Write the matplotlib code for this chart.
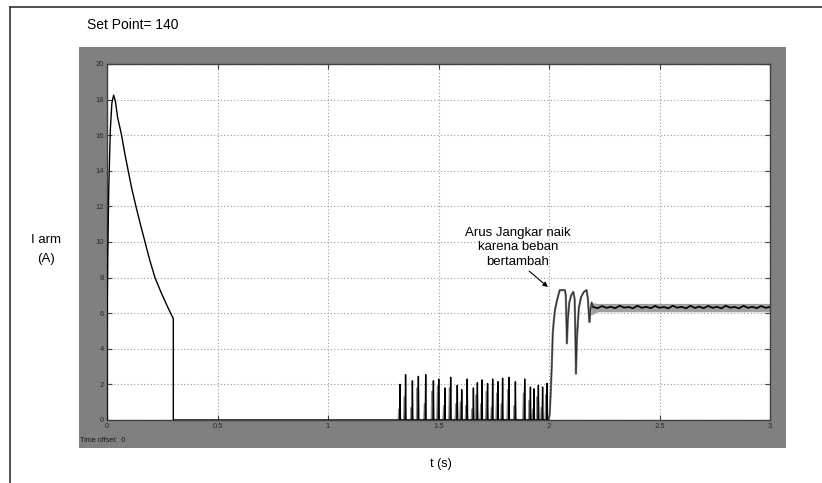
import matplotlib
matplotlib.use("Agg")
import matplotlib.pyplot as plt
from matplotlib.patches import Rectangle
from matplotlib.lines import Line2D

plt.rcParams['font.family'] = ['Liberation Sans', 'DejaVu Sans']

# ---------------- data ----------------
# start-up transient
t_start = [0.0, 0.0, 0.003, 0.008, 0.015, 0.022, 0.030, 0.038, 0.048, 0.066,
           0.080, 0.096, 0.112, 0.131, 0.151, 0.172, 0.193, 0.217, 0.247,
           0.280, 0.300, 0.300, 1.320]
i_start = [0.0, 5.0, 9.0, 13.0, 16.3, 17.8, 18.25, 17.9, 17.0, 16.0,
           15.0, 14.0, 13.0, 12.0, 11.0, 10.0, 9.0, 8.0, 7.1,
           6.2, 5.7, 0.0, 0.0]

# chopping spikes between 1.33 s and 2 s (black trace)
spike_t_black = [1.326, 1.351, 1.382, 1.409, 1.442, 1.477, 1.501, 1.529, 1.555,
                 1.585, 1.605, 1.630, 1.658, 1.676, 1.697, 1.722, 1.745, 1.769,
                 1.790, 1.819, 1.848, 1.890, 1.916, 1.932, 1.952, 1.971, 1.991]
spike_h_black = [2.0, 2.55, 2.2, 2.45, 2.55, 2.2, 2.3, 1.8, 2.4,
                 1.95, 1.7, 2.3, 1.8, 2.1, 2.25, 2.05, 2.3, 2.15,
                 2.35, 2.4, 2.15, 2.3, 1.85, 1.75, 1.95, 1.85, 2.05]
# grey trace spikes
spike_t_grey = [1.322, 1.347, 1.378, 1.405, 1.438, 1.472, 1.497, 1.525, 1.551,
                1.580, 1.601, 1.626, 1.653, 1.672, 1.693, 1.718, 1.741, 1.765,
                1.786, 1.815, 1.844, 1.886, 1.912, 1.928, 1.948, 1.967, 1.987]
spike_h_grey = [0.6, 1.3, 0.7, 1.8, 0.9, 1.6, 1.9, 0.8, 1.8,
                0.9, 1.0, 0.8, 0.6, 1.4, 0.9, 1.6, 0.7, 1.5,
                0.9, 1.7, 0.8, 1.5, 1.1, 0.6, 1.3, 0.7, 1.4]

# load step transient
t_load = [1.997, 2.003, 2.008, 2.0125, 2.017, 2.022, 2.027, 2.034, 2.042, 2.049,
          2.060, 2.072, 2.076, 2.079, 2.081, 2.085, 2.092, 2.100, 2.110, 2.116,
          2.119, 2.122, 2.126, 2.135, 2.145, 2.158, 2.170, 2.176, 2.180, 2.183,
          2.188, 2.193, 2.200]
i_load = [0.0, 0.3, 1.6, 3.0, 4.86, 5.6, 6.17, 6.6, 7.0, 7.3,
          7.3, 7.3, 7.0, 5.5, 4.3, 5.6, 6.6, 7.0, 7.2, 6.8,
          5.0, 2.6, 4.5, 6.3, 6.9, 7.2, 7.3, 6.8, 6.0, 5.5,
          6.2, 6.6, 6.35]

# steady state after load (black trace)
t_ss = [2.20, 2.22, 2.24, 2.26, 2.28, 2.30, 2.32, 2.34, 2.36, 2.38, 2.40,
        2.42, 2.44, 2.46, 2.48, 2.50, 2.52, 2.54, 2.56, 2.58, 2.60,
        2.62, 2.64, 2.66, 2.68, 2.70, 2.72, 2.74, 2.76, 2.78, 2.80,
        2.82, 2.84, 2.86, 2.88, 2.90, 2.92, 2.94, 2.96, 2.98, 3.00]
i_ss = [6.35, 6.28, 6.40, 6.30, 6.36, 6.28, 6.42, 6.31, 6.35, 6.27, 6.42,
        6.30, 6.36, 6.28, 6.41, 6.30, 6.35, 6.27, 6.42, 6.31, 6.36,
        6.27, 6.42, 6.29, 6.37, 6.28, 6.41, 6.30, 6.36, 6.27, 6.42,
        6.31, 6.35, 6.27, 6.42, 6.30, 6.36, 6.28, 6.40, 6.30, 6.35]
# grey ripple envelope
band_t = [2.19, 2.22, 3.0]
band_lo = [5.9, 6.08, 6.08]
band_hi = [6.6, 6.55, 6.55]

x_ticks = [0, 0.5, 1, 1.5, 2, 2.5, 3]
x_ticklabels = ["0", "0.5", "1", "1.5", "2", "2.5", "3"]
y_ticks = [0, 2, 4, 6, 8, 10, 12, 14, 16, 18, 20]

annot_lines = ["Arus Jangkar naik", "karena beban", "bertambah"]


def spikes(ts, hs, w):
    xs, ys = [], []
    for t, h in zip(ts, hs):
        xs += [t - w, t, t + w]
        ys += [0.0, h, 0.0]
    return xs, ys


# ---------------- figure ----------------
W, H = 822, 483
fig = plt.figure(figsize=(W / 100, H / 100), dpi=100)
fig.patch.set_facecolor("white")


def fx(px):
    return px / W


def fy(py):
    return 1 - py / H


# outer frame (left and top lines)
fig.add_artist(Line2D([fx(10), fx(10)], [0, fy(7)], color="#333333", lw=1.2))
fig.add_artist(Line2D([fx(10), 1], [fy(7), fy(7)], color="#333333", lw=1.2))

# grey scope panel
fig.add_artist(Rectangle((fx(79), fy(448)), fx(786) - fx(79), fy(47) - fy(448),
                         facecolor="#808080", edgecolor="none", zorder=0))

ax = fig.add_axes([fx(107), fy(420), fx(770) - fx(107), fy(64) - fy(420)])
ax.set_facecolor("white")
ax.set_xlim(0, 3)
ax.set_ylim(0, 20)

# grey trace
gx, gy = spikes(spike_t_grey, spike_h_grey, 0.0035)
ax.plot(gx, gy, color="#8c8c8c", lw=1.4, zorder=2)
ax.plot(t_load, i_load, color="#8c8c8c", lw=1.6, zorder=2)
ax.fill_between(band_t, band_lo, band_hi, color="#a0a0a0", lw=0, zorder=2)

# black trace
ax.plot(t_start, i_start, color="black", lw=1.0, zorder=3)
bx, by = spikes(spike_t_black, spike_h_black, 0.0018)
ax.plot(bx, by, color="black", lw=1.0, zorder=3)
ax.plot(t_load, i_load, color="#333333", lw=0.9, zorder=3)
ax.plot(t_ss, i_ss, color="black", lw=1.2, zorder=3)

ax.set_xticks(x_ticks)
ax.set_xticklabels(x_ticklabels)
ax.set_yticks(y_ticks)
ax.tick_params(direction="in", length=3.5, width=0.8, color="#404040",
               labelsize=5.5, labelcolor="#2a2a2a", pad=2,
               top=True, right=True)
ax.grid(True, linestyle=(0, (1, 2)), color="#9a9a9a", lw=0.8)
for s in ax.spines.values():
    s.set_color("#404040")
    s.set_linewidth(1.0)

# annotation arrow
ax.annotate("", xy=(1.995, 7.47), xytext=(1.91, 8.37),
            arrowprops=dict(arrowstyle="-|>", color="black", lw=0.8,
                            mutation_scale=7, shrinkA=0, shrinkB=0))

# texts
fig.text(fx(87), fy(25), "Set Point= 140", fontsize=10, ha="left", va="center")
fig.text(fx(46), fy(240), "I arm", fontsize=9.5, ha="center", va="center")
fig.text(fx(46), fy(259), "(A)", fontsize=9.5, ha="center", va="center")
fig.text(fx(441), fy(464), "t (s)", fontsize=9, ha="center", va="center")
fig.text(fx(80), fy(441), "Time offset:  0", fontsize=5.2, ha="left",
         va="center", color="#1a1a1a")
for k, line in enumerate(annot_lines):
    fig.text(fx(518), fy(233 + 14.3 * k), line, fontsize=9.5,
             ha="center", va="center")

fig.savefig("out.png", dpi=100)
